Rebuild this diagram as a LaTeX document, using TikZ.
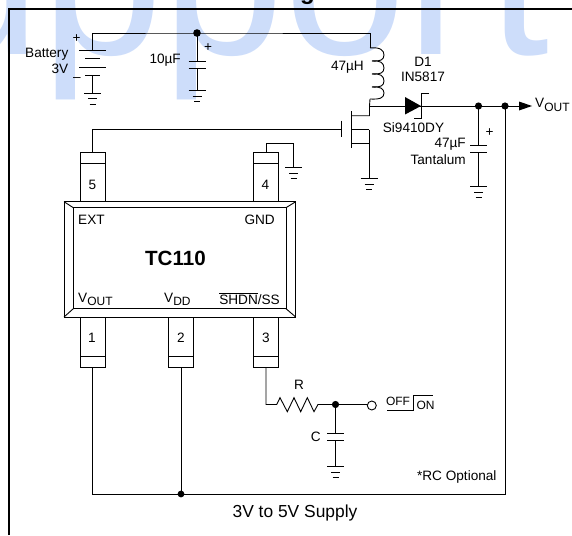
\documentclass[tikz,border=0pt]{standalone}
\usepackage{fontspec}
\setmainfont{Liberation Sans}
\definecolor{markblue}{RGB}{205,221,250}
\newcommand{\vsub}[1]{V\raisebox{-3.5pt}{\fontsize{12}{12}\selectfont #1}}
\tikzset{
	wire/.style={line width=0.9pt},
	txt/.style={inner sep=0pt,font=\fontsize{13.6}{15}\selectfont},
	dot/.style={fill=black,draw=none},
}
\begin{document}
\begin{tikzpicture}[x=1pt,y=-1pt]
	\useasboundingbox (0,0) rectangle (572,535);
	\begin{scope}
		\clip (0,0) rectangle (572,535);
		\node[anchor=base west,inner sep=0pt,text=markblue,font=\fontsize{219}{219}\selectfont] (mark) at (-227,55) {Suppor\kern 9pt t};
		\node[anchor=base,inner sep=0pt,font=\bfseries\fontsize{24}{24}\selectfont] (title) at (307.5,0) {g};
	\end{scope}
	\draw [line width=1.8pt] (9,535) to (9,9) to (572,9);
	% points of the circuit
	\coordinate (B) at (92.5,33);
	\coordinate (J) at (197,33);
	\coordinate (L) at (370,33);
	\coordinate (D) at (369.5,106);
	\coordinate (K) at (421,106);
	\coordinate (M) at (478.5,106);
	\coordinate (O) at (505,106);
	\coordinate (A) at (519,106);
	\coordinate (R) at (266,404.5);
	\coordinate (N) at (335.5,404.5);
	% ground symbols
	\coordinate (GB) at (92.5,93);
	\coordinate (GC) at (197,90.5);
	\coordinate (GF) at (369,178.5);
	\coordinate (GT) at (478.5,186.5);
	\coordinate (GP) at (293.5,167.5);
	\coordinate (GS) at (335.5,466.5);
	\foreach \g in {GB,GC,GF,GT,GP,GS} {
		\draw [wire,shift={(\g)}] (-8.5,0) to (8.5,0) (-4.5,5.5) to (4.5,5.5) (-3,11) to (3,11);
	}
	% capacitors
	\coordinate (CA) at (197,61);
	\coordinate (CB) at (478.5,145.5);
	\coordinate (CC) at (335.5,433.5);
	\foreach \c in {CA,CB,CC} {
		\draw [wire,shift={(\c)}] (-8.5,0) to (8.5,0) (-8.5,7) to (8.5,7);
	}
	\draw [wire] (GC) to ++(0,-22.5);
	\draw [wire] (J) to (CA);
	\draw [wire] (M) to (CB);
	\draw [wire] (GT) to ++(0,-34);
	\draw [wire] (N) to (CC);
	\draw [wire] (GS) to ++(0,-26);
	% battery
	\draw [wire] (GB) to ++(0,-17.5);
	\draw [wire] (79,50.5) to (106,50.5) (85,58.5) to (100,58.5) (79,67) to (106,67) (85,75.5) to (100,75.5);
	\draw [wire] (92.5,50.5) to (B) to (J) to (L) to (370,48);
	% inductor
	\draw [wire] (370,48) .. controls (380,47) and (384,50) .. (384,55) .. controls (384,60) and (380,61.5) .. (372,61);
	\draw [wire] (372,61) .. controls (380,60) and (384,63) .. (384,68) .. controls (384,73) and (380,74.5) .. (372,74);
	\draw [wire] (372,74) .. controls (380,73) and (384,76) .. (384,81) .. controls (384,86) and (380,87.5) .. (372,87);
	\draw [wire] (372,87) .. controls (380,86) and (384,89) .. (384,93) .. controls (384,98) and (380,99.5) .. (370,99);
	% MOSFET
	\draw [wire] (370,99) to (D) to (369.5,115.7) to (351,115.7);
	\draw [wire] (351,111) to (351,148);
	\draw [wire] (351,129.5) to (369,129.5) (351,143.5) to (369,143.5);
	\draw [wire] (369,129.5) to (GF);
	\draw [wire] (341.7,120.5) to (341.7,137);
	\draw [wire] (341.7,129.5) to (92.5,129.5) to (92.5,152);
	% diode and output
	\draw [wire] (D) to (A);
	\fill (405,97) to (421,106) to (405,114.5) to cycle;
	\draw [wire] (429,93) to (421,93) to (421,118) to (414,118);
	\fill (519,101.5) to (532,106) to (519,110.5) to cycle;
	\fill[dot] (M) circle (3.6);
	\fill[dot] (O) circle (3.6);
	\fill[dot] (J) circle (3.8);
	% supply return
	\draw [wire] (O) to (505,494) to (92.5,494) to (92.5,367);
	\draw [wire] (181,367) to (181,494);
	\fill[dot] (181,494) circle (3.4);
	% TC110 package
	\draw [wire] (64,201.7) rectangle (295.7,317);
	\draw [wire] (73.3,207.7) rectangle (286,308.7);
	\draw [wire] (64,201.7) to (73.3,207.7) (295.7,201.7) to (286,207.7) (64,317) to (73.3,308.7) (295.7,317) to (286,308.7);
	\foreach \x in {80.3,253.7} {
		\draw [wire] (\x,201.7) to (\x,152) to ++(24.8,0) to ++(0,49.7);
		\draw [wire] (\x,163.3) to ++(24.8,0);
	}
	\foreach \x in {80.3,168.7,253.7} {
		\draw [wire] (\x,317) to (\x,367.3) to ++(24.8,0) to ++(0,-50.3);
		\draw [wire] (\x,356.3) to ++(24.8,0);
	}
	\draw [wire] (266.5,152) to (266.5,143.7) to (293.5,143.7) to (GP);
	% resistor
	\draw [wire] (266,367.3) to (R) to (276.7,404.5) to (280,397.7) to (287.3,411.7) to (294,397.7) to (300.7,411.7) to (307.3,397.7) to (314,411.7) to (318,404.5) to (N) to (367.3,404.5);
	\fill[dot] (N) circle (3.6);
	\draw [wire] (371.8,405.5) circle (4.5);
	\draw [wire] (387,410.7) to (413,410.7) to (413,395.7) to (433,395.7);
	% labels
	\node[txt,anchor=center] (plusb) at (76.5,38.5) {+};
	\node[txt,anchor=center] (minusb) at (77,79.5) {–};
	\node[txt,anchor=east] (batt) at (68.5,54) {Battery};
	\node[txt,anchor=east] (volt) at (68.5,69) {3V};
	\node[txt,anchor=east] (cval) at (181,60) {10µF};
	\node[txt,anchor=center] (plusc) at (208,48) {+};
	\node[txt,anchor=east] (lval) at (364,67) {47µH};
	\node[txt] (dname) at (423,62) {D1};
	\node[txt] (dval) at (423,77) {IN5817};
	\node[txt] (fet) at (413.5,128) {Si9410DY};
	\node[txt,anchor=west] (vout) at (535,105) {\vsub{OUT}};
	\node[txt,anchor=center] (plust) at (489.5,133) {+};
	\node[txt,anchor=east] (tval) at (466,144) {47µF};
	\node[txt,anchor=east] (tant) at (466,160) {Tantalum};
	\node[txt] (five) at (92.5,185) {5};
	\node[txt] (four) at (265.5,185) {4};
	\node[txt] (one) at (92,337.5) {1};
	\node[txt] (two) at (181,338) {2};
	\node[txt] (three) at (266,338) {3};
	\node[txt,anchor=west] (ext) at (78,220) {EXT};
	\node[txt,anchor=east] (gnd) at (275,220) {GND};
	\node[inner sep=0pt,font=\bfseries\fontsize{20.6}{22}\selectfont] (chip) at (175.5,258) {TC110};
	\node[txt,anchor=base west] (pvout) at (78,302) {\vsub{OUT}};
	\node[txt,anchor=base west] (pvdd) at (164,302) {\vsub{DD}};
	\node[txt,anchor=base east] (shdn) at (280,304) {$\overline{\mbox{SHDN}}$/SS};
	\node[txt] (rname) at (299,385) {R};
	\node[txt,anchor=east] (cname) at (321,437) {C};
	\node[inner sep=0pt,font=\fontsize{12}{12}\selectfont] (off) at (398,401.7) {OFF};
	\node[inner sep=0pt,font=\fontsize{12}{12}\selectfont] (on) at (425.5,405.7) {ON};
	\node[txt,anchor=east] (rcopt) at (496.7,477) {*RC Optional};
	\node[inner sep=0pt,font=\fontsize{17.4}{19}\selectfont] (supply) at (295,513) {3V to 5V Supply};
\end{tikzpicture}
\end{document}
